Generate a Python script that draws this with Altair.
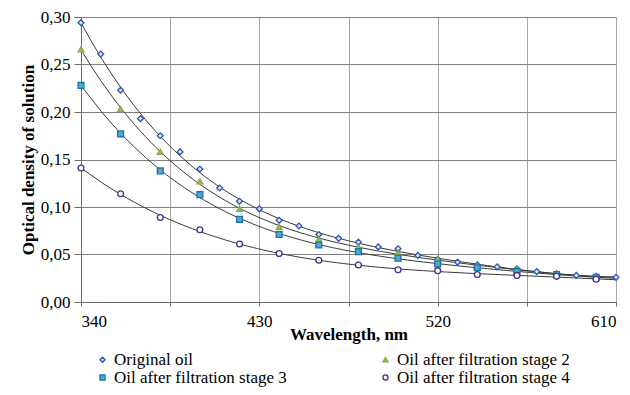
import altair as alt
import pandas as pd

series_names = ["Original oil", "Oil after filtration stage 2",
                "Oil after filtration stage 3", "Oil after filtration stage 4"]

wl_original = [340, 350, 360, 370, 380, 390, 400, 410, 420, 430, 440, 450, 460, 470,
               480, 490, 500, 510, 520, 530, 540, 550, 560, 570, 580, 590, 600, 610]
od_original = [0.294, 0.261, 0.223, 0.193, 0.175, 0.158, 0.140, 0.120, 0.106, 0.098,
               0.086, 0.080, 0.071, 0.067, 0.063, 0.058, 0.056, 0.049, 0.045, 0.042,
               0.039, 0.037, 0.035, 0.032, 0.030, 0.028, 0.027, 0.026]

wl_stages = [340, 360, 380, 400, 420, 440, 460, 480, 500, 520, 540, 560, 580, 600]
od_stage2 = [0.266, 0.203, 0.158, 0.127, 0.098, 0.079, 0.066, 0.058, 0.052, 0.045,
             0.037, 0.034, 0.030, 0.027]
od_stage3 = [0.228, 0.177, 0.138, 0.113, 0.087, 0.071, 0.060, 0.053, 0.046, 0.040,
             0.036, 0.032, 0.029, 0.026]
od_stage4 = [0.141, 0.114, 0.089, 0.076, 0.061, 0.051, 0.044, 0.039, 0.034, 0.033,
             0.029, 0.028, 0.027, 0.024]

x_grid = [340, 385, 430, 475, 520, 565, 610]
y_ticks = [0.0, 0.05, 0.10, 0.15, 0.20, 0.25, 0.30]

rows = []
for w, v in zip(wl_original, od_original):
    rows.append({"wl": w, "od": v, "series": series_names[0]})
for vals, name in [(od_stage2, series_names[1]), (od_stage3, series_names[2]),
                   (od_stage4, series_names[3])]:
    for w, v in zip(wl_stages, vals):
        rows.append({"wl": w, "od": v, "series": name})
df = pd.DataFrame(rows)

FONT = "Liberation Serif"
FS = 17

x_enc = alt.X("wl:Q", scale=alt.Scale(domain=[340, 610], nice=False, zero=False),
              axis=alt.Axis(values=x_grid, title="Wavelength, nm",
                            labelExpr="(datum.value - 340) % 90 == 0 ? datum.label : ''",
                            format="d", gridColor="#a8a8a8", labelPadding=7,
                            titlePadding=-3, labelFont=FONT, titleFont=FONT))
y_enc = alt.Y("od:Q", scale=alt.Scale(domain=[0, 0.30], nice=False),
              axis=alt.Axis(values=y_ticks, title="Optical density of solution",
                            labelExpr="replace(format(datum.value, '.2f'), '.', ',')",
                            gridColor="#808080", tickSize=7, labelPadding=4,
                            titlePadding=3, labelFont=FONT, titleFont=FONT))

shape_scale = alt.Scale(domain=series_names,
                        range=["diamond", "triangle-up", "square", "circle"])
fill_scale = alt.Scale(domain=series_names,
                       range=["#DCE6F5", "#9BBB59", "#4BACC6", "#FFFFFF"])
stroke_scale = alt.Scale(domain=series_names,
                         range=["#2A55B5", "#8AA84A", "#1F6FB5", "#4B2C8C"])

leg = alt.Legend(title=None, orient="none", legendX=13, legendY=334, columns=2,
                 direction="horizontal", columnPadding=90, rowPadding=0,
                 labelFont=FONT, labelFontSize=FS, labelColor="#000",
                 labelLimit=400,
                 symbolSize=26, symbolStrokeWidth=1.3, labelOffset=3)

lines = alt.Chart(df).transform_regression(
    "wl", "od", groupby=["series"], method="poly", order=4, extent=[340, 610]
).mark_line(color="#3a3a3a", strokeWidth=1).encode(
    x=x_enc, y=y_enc, detail="series:N"
)

points = alt.Chart(df).mark_point(filled=False, strokeWidth=1.3, opacity=1).encode(
    x=x_enc, y=y_enc,
    shape=alt.Shape("series:N", scale=shape_scale, legend=leg),
    fill=alt.Fill("series:N", scale=fill_scale, legend=leg),
    stroke=alt.Stroke("series:N", scale=stroke_scale, legend=leg),
    size=alt.value(34),
)

chart = alt.layer(lines, points).properties(
    width=535, height=285,
    autosize=alt.AutoSizeParams(type="none"),
    padding={"left": 73, "top": 9, "right": 6, "bottom": 85},
).configure(font=FONT).configure_view(stroke=None).configure_axis(
    labelFont=FONT, titleFont=FONT, labelFontSize=FS, titleFontSize=FS,
    titleFontWeight="bold", labelColor="#000", titleColor="#000",
    gridWidth=1, domainColor="#6b6b6b", tickColor="#6b6b6b",
    tickSize=4,
).configure_legend(labelFont=FONT)

chart.save("out.html", embed_options={"renderer": "svg", "actions": False})
